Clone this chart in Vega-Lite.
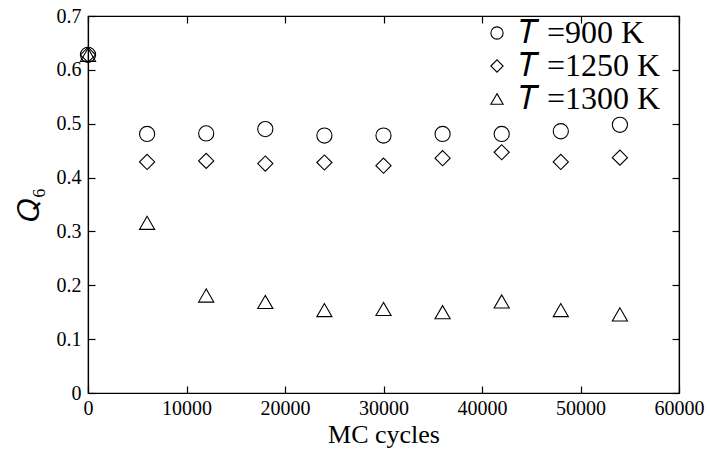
{
  "$schema": "https://vega.github.io/schema/vega-lite/v6.json",
  "autosize": {"type": "none"},
  "width": 591,
  "height": 377,
  "padding": {"left": 88, "top": 16, "right": 33, "bottom": 62},
  "background": "white",
  "config": {
    "view": {"stroke": "black", "strokeWidth": 1.2},
    "font": "Liberation Serif",
    "axis": {
      "grid": false,
      "domainColor": "black",
      "tickColor": "black",
      "labelColor": "black",
      "titleColor": "black",
      "labelFont": "Liberation Serif",
      "titleFont": "Liberation Serif",
      "labelFontSize": 20,
      "titleFontWeight": "normal",
      "tickSize": -7,
      "tickWidth": 1.2,
      "domainWidth": 1.2
    }
  },
  "data": {
    "values": [
      {"cycles": 0, "q6": 0.628, "series": "𝑇 =900 K"},
      {"cycles": 6000, "q6": 0.481, "series": "𝑇 =900 K"},
      {"cycles": 12000, "q6": 0.482, "series": "𝑇 =900 K"},
      {"cycles": 18000, "q6": 0.490, "series": "𝑇 =900 K"},
      {"cycles": 24000, "q6": 0.478, "series": "𝑇 =900 K"},
      {"cycles": 30000, "q6": 0.478, "series": "𝑇 =900 K"},
      {"cycles": 36000, "q6": 0.481, "series": "𝑇 =900 K"},
      {"cycles": 42000, "q6": 0.481, "series": "𝑇 =900 K"},
      {"cycles": 48000, "q6": 0.486, "series": "𝑇 =900 K"},
      {"cycles": 54000, "q6": 0.498, "series": "𝑇 =900 K"},
      {"cycles": 0, "q6": 0.628, "series": "𝑇 =1250 K"},
      {"cycles": 6000, "q6": 0.429, "series": "𝑇 =1250 K"},
      {"cycles": 12000, "q6": 0.431, "series": "𝑇 =1250 K"},
      {"cycles": 18000, "q6": 0.426, "series": "𝑇 =1250 K"},
      {"cycles": 24000, "q6": 0.428, "series": "𝑇 =1250 K"},
      {"cycles": 30000, "q6": 0.422, "series": "𝑇 =1250 K"},
      {"cycles": 36000, "q6": 0.436, "series": "𝑇 =1250 K"},
      {"cycles": 42000, "q6": 0.447, "series": "𝑇 =1250 K"},
      {"cycles": 48000, "q6": 0.429, "series": "𝑇 =1250 K"},
      {"cycles": 54000, "q6": 0.437, "series": "𝑇 =1250 K"},
      {"cycles": 0, "q6": 0.628, "series": "𝑇 =1300 K"},
      {"cycles": 6000, "q6": 0.316, "series": "𝑇 =1300 K"},
      {"cycles": 12000, "q6": 0.181, "series": "𝑇 =1300 K"},
      {"cycles": 18000, "q6": 0.169, "series": "𝑇 =1300 K"},
      {"cycles": 24000, "q6": 0.154, "series": "𝑇 =1300 K"},
      {"cycles": 30000, "q6": 0.156, "series": "𝑇 =1300 K"},
      {"cycles": 36000, "q6": 0.150, "series": "𝑇 =1300 K"},
      {"cycles": 42000, "q6": 0.170, "series": "𝑇 =1300 K"},
      {"cycles": 48000, "q6": 0.154, "series": "𝑇 =1300 K"},
      {"cycles": 54000, "q6": 0.146, "series": "𝑇 =1300 K"}
    ]
  },
  "resolve": {"axis": {"x": "independent", "y": "independent"}},
  "layer": [
    {
      "mark": {"type": "point", "filled": false, "color": "black", "opacity": 1, "strokeWidth": 1.1, "size": 230, "clip": false},
      "encoding": {
        "x": {
          "field": "cycles", "type": "quantitative",
          "scale": {"domain": [0, 60000], "nice": false, "zero": false},
          "axis": {"orient": "bottom", "title": "MC cycles", "titleFont": "Liberation Serif", "labelFont": "Liberation Serif", "titleFontSize": 26, "titlePadding": 3, "labelPadding": 12, "values": [0, 10000, 20000, 30000, 40000, 50000, 60000], "format": "d", "labelFlush": false}
        },
        "y": {
          "field": "q6", "type": "quantitative",
          "scale": {"domain": [0, 0.7], "nice": false},
          "axis": {"orient": "left", "title": "𝑄₆", "titleFont": "Liberation Serif", "labelFont": "Liberation Serif", "titleFontSize": 30, "titlePadding": 12, "labelPadding": 14, "values": [0, 0.1, 0.2, 0.3, 0.4, 0.5, 0.6, 0.7], "labelExpr": "datum.value == 0 ? '0' : format(datum.value, '.1f')"}
        },
        "shape": {
          "field": "series", "type": "nominal",
          "scale": {"domain": ["𝑇 =900 K", "𝑇 =1250 K", "𝑇 =1300 K"], "range": ["circle", "diamond", "triangle-up"]},
          "legend": {
            "title": null,
            "orient": "none",
            "legendX": 393,
            "legendY": 1,
            "labelFont": "Liberation Serif",
            "labelFontSize": 32,
            "labelColor": "black",
            "labelOffset": 6,
            "labelLimit": 300,
            "symbolSize": 150,
            "symbolStrokeColor": "black",
            "symbolFillColor": "transparent",
            "symbolStrokeWidth": 1.1,
            "symbolOpacity": 1,
            "rowPadding": 1
          }
        }
      }
    },
    {
      "mark": {"type": "point", "opacity": 0},
      "encoding": {
        "x": {
          "field": "cycles", "type": "quantitative",
          "axis": {"orient": "top", "title": null, "labels": false, "values": [0, 10000, 20000, 30000, 40000, 50000, 60000]}
        },
        "y": {
          "field": "q6", "type": "quantitative",
          "axis": {"orient": "right", "title": null, "labels": false, "values": [0, 0.1, 0.2, 0.3, 0.4, 0.5, 0.6, 0.7]}
        }
      }
    }
  ]
}
